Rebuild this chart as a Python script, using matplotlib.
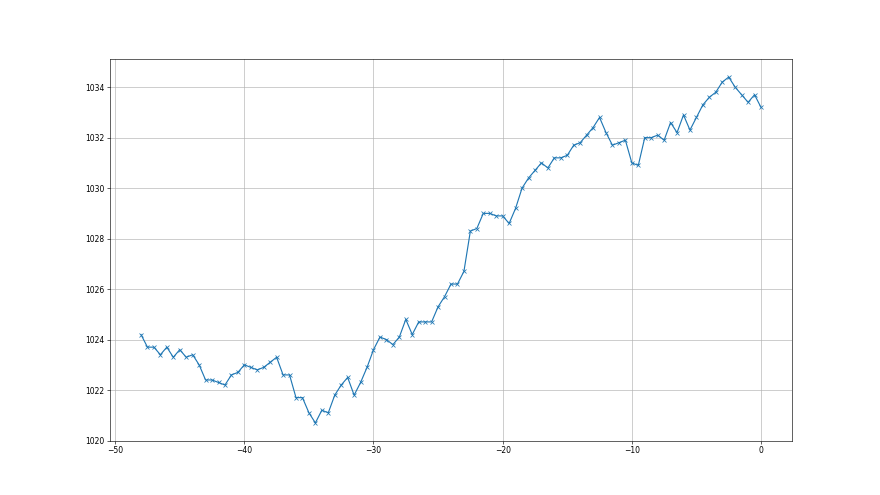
import matplotlib
matplotlib.use("Agg")
import matplotlib.pyplot as plt

# hours relative to now
hours = [-48.0, -47.5, -47.0, -46.5, -46.0, -45.5, -45.0, -44.5, -44.0, -43.5,
         -43.0, -42.5, -42.0, -41.5, -41.0, -40.5, -40.0, -39.5, -39.0, -38.5,
         -38.0, -37.5, -37.0, -36.5, -36.0, -35.5, -35.0, -34.5, -34.0, -33.5,
         -33.0, -32.5, -32.0, -31.5, -31.0, -30.5, -30.0, -29.5, -29.0, -28.5,
         -28.0, -27.5, -27.0, -26.5, -26.0, -25.5, -25.0, -24.5, -24.0, -23.5,
         -23.0, -22.5, -22.0, -21.5, -21.0, -20.5, -20.0, -19.5, -19.0, -18.5,
         -18.0, -17.5, -17.0, -16.5, -16.0, -15.5, -15.0, -14.5, -14.0, -13.5,
         -13.0, -12.5, -12.0, -11.5, -11.0, -10.5, -10.0, -9.5, -9.0, -8.5,
         -8.0, -7.5, -7.0, -6.5, -6.0, -5.5, -5.0, -4.5, -4.0, -3.5,
         -3.0, -2.5, -2.0, -1.5, -1.0, -0.5, 0.0]

# pressure readings (hPa)
pressure = [1024.2, 1023.7, 1023.7, 1023.4, 1023.7, 1023.3, 1023.6, 1023.3, 1023.4, 1023.0,
            1022.4, 1022.4, 1022.3, 1022.2, 1022.6, 1022.7, 1023.0, 1022.9, 1022.8, 1022.9,
            1023.1, 1023.3, 1022.6, 1022.6, 1021.7, 1021.7, 1021.1, 1020.7, 1021.2, 1021.1,
            1021.8, 1022.2, 1022.5, 1021.8, 1022.3, 1022.9, 1023.6, 1024.1, 1024.0, 1023.8,
            1024.1, 1024.8, 1024.2, 1024.7, 1024.7, 1024.7, 1025.3, 1025.7, 1026.2, 1026.2,
            1026.7, 1028.3, 1028.4, 1029.0, 1029.0, 1028.9, 1028.9, 1028.6, 1029.2, 1030.0,
            1030.4, 1030.7, 1031.0, 1030.8, 1031.2, 1031.2, 1031.3, 1031.7, 1031.8, 1032.1,
            1032.4, 1032.8, 1032.2, 1031.7, 1031.8, 1031.9, 1031.0, 1030.9, 1032.0, 1032.0,
            1032.1, 1031.9, 1032.6, 1032.2, 1032.9, 1032.3, 1032.8, 1033.3, 1033.6, 1033.8,
            1034.2, 1034.4, 1034.0, 1033.7, 1033.4, 1033.7, 1033.2]

fig = plt.figure(figsize=(16, 9), dpi=55)
plt.plot(hours, pressure, marker='x')
plt.ylim(1020, 1035.1)
plt.grid(True)
plt.savefig("out.png", dpi=55)
